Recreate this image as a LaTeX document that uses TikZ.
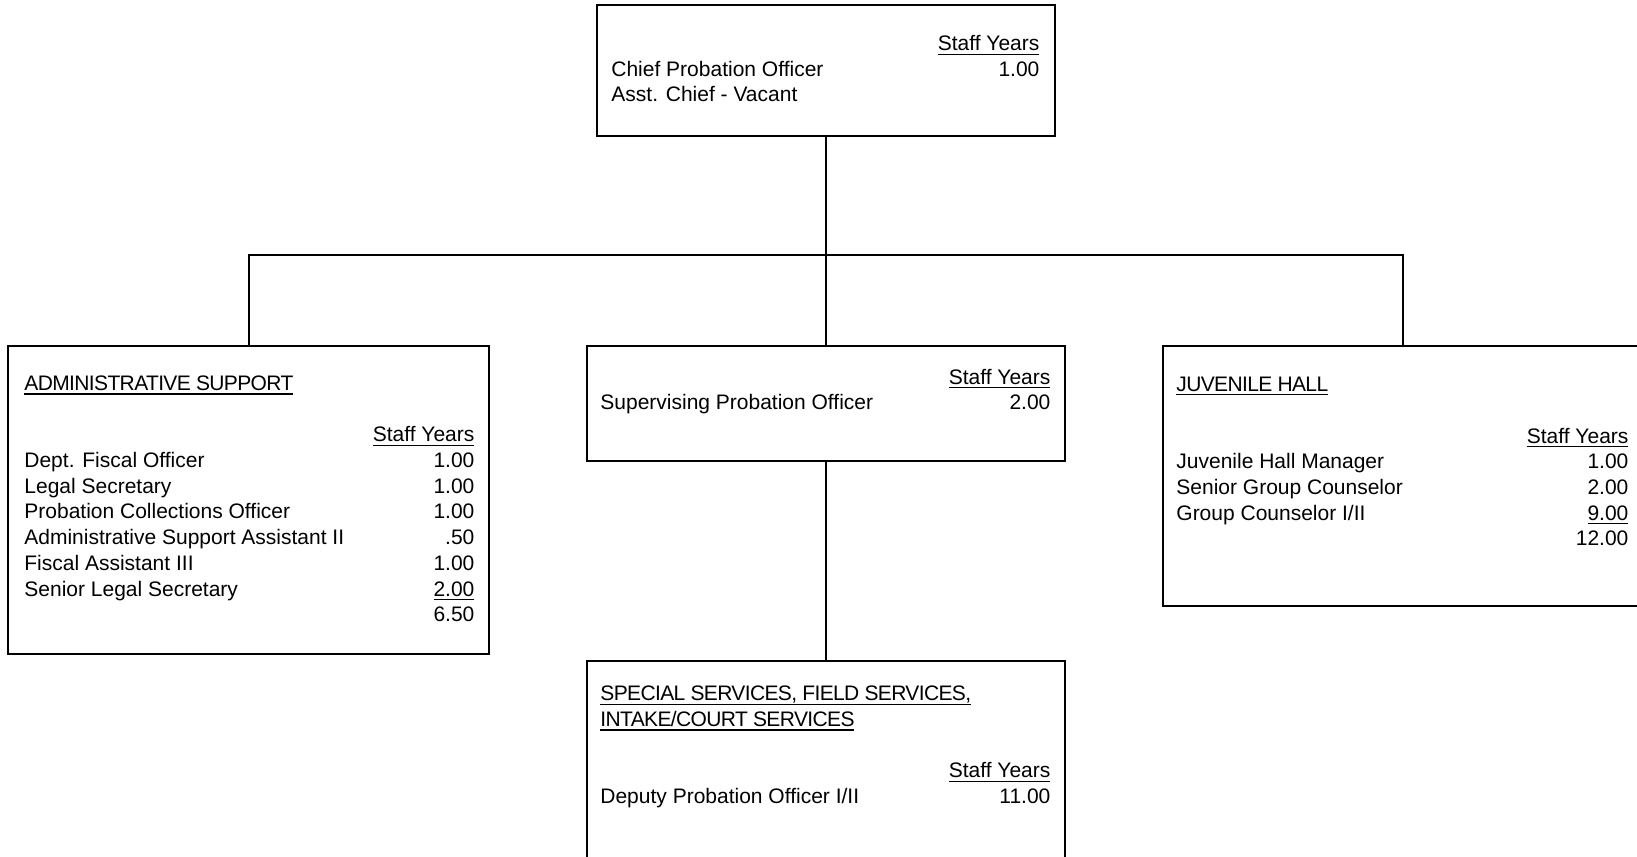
\documentclass[tikz,border=0pt]{standalone}
\usepackage{fontspec}
\setmainfont{Liberation Sans}
\newfontfamily\headfont[LetterSpace=-3]{Liberation Sans}
\usetikzlibrary{positioning}
\newcommand{\ulined}[1]{\setbox0=\hbox{#1}\rlap{\rule[-2.1pt]{\wd0}{0.6pt}}\box0}
\newcommand{\sy}{\ulined{Staff Years}}
\newcommand{\head}[1]{\multicolumn{2}{@{}l@{}}{\ulined{\headfont #1}}}

\begin{document}
\begin{tikzpicture}
\tikzset{box/.style={draw,line width=1pt,inner sep=0pt,minimum width=239pt},
  txt/.style={anchor=base west,inner sep=0pt,font=\fontsize{10.5}{12.85}\selectfont}}
\clip (0,0) rectangle (818.5pt,-428pt);
\node [box, minimum width=229pt, minimum height=65.5pt, anchor=north] (chief) at (413pt,-2pt) {};
\node [box, minimum height=57.5pt, below=104pt of chief] (sup) {};
\node [box, minimum height=110pt, below=99pt of sup] (special) {};
\node [box, minimum width=240.5pt, minimum height=154pt, left=48pt of sup.north west, anchor=north east] (admin) {};
\node [box, minimum width=240pt, minimum height=130pt, right=48pt of sup.north east, anchor=north west] (juv) {};
\coordinate [below=59pt of chief] (bus);
\draw [line width=1pt] (chief) -- (sup) (sup) -- (special)
  (admin.north) |- (bus) -| (juv.north);

\node [txt] (chieftxt) at ([shift={(7.5pt,-23.3pt)}]chief.north west) {\begin{tabular*}{214pt}[t]{@{}l@{\extracolsep{\fill}}r@{}}
 & \sy\\
Chief Probation Officer & 1.00\\
Asst. Chief - Vacant &
\end{tabular*}};
\node [txt] (suptxt) at ([shift={(7pt,-19.5pt)}]sup.north west) {\begin{tabular*}{225pt}[t]{@{}l@{\extracolsep{\fill}}r@{}}
 & \sy\\
Supervising Probation Officer & 2.00
\end{tabular*}};
\node [txt] (admintxt) at ([shift={(8.5pt,-22.7pt)}]admin.north west) {\begin{tabular*}{225pt}[t]{@{}l@{\extracolsep{\fill}}r@{}}
\head{ADMINISTRATIVE SUPPORT}\\
 & \\
 & \sy\\
Dept. Fiscal Officer & 1.00\\
Legal Secretary & 1.00\\
Probation Collections Officer & 1.00\\
Administrative Support Assistant II & .50\\
Fiscal Assistant III & 1.00\\
Senior Legal Secretary & \ulined{2.00}\\
 & 6.50
\end{tabular*}};
\node [txt] (juvtitle) at ([shift={(7pt,-23pt)}]juv.north west) {\ulined{\headfont JUVENILE HALL}};
\node [txt] (juvtxt) at ([shift={(7pt,-49pt)}]juv.north west) {\begin{tabular*}{226pt}[t]{@{}l@{\extracolsep{\fill}}r@{}}
 & \sy\\
Juvenile Hall Manager & 1.00\\
Senior Group Counselor & 2.00\\
Group Counselor I/II & \ulined{9.00}\\
 & 12.00
\end{tabular*}};
\node [txt] (specialtxt) at ([shift={(7pt,-20.3pt)}]special.north west) {\begin{tabular*}{225pt}[t]{@{}l@{\extracolsep{\fill}}r@{}}
\head{SPECIAL SERVICES, FIELD SERVICES,}\\
\head{INTAKE/COURT SERVICES}\\
 & \\
 & \sy\\
Deputy Probation Officer I/II & 11.00
\end{tabular*}};
\end{tikzpicture}
\end{document}
